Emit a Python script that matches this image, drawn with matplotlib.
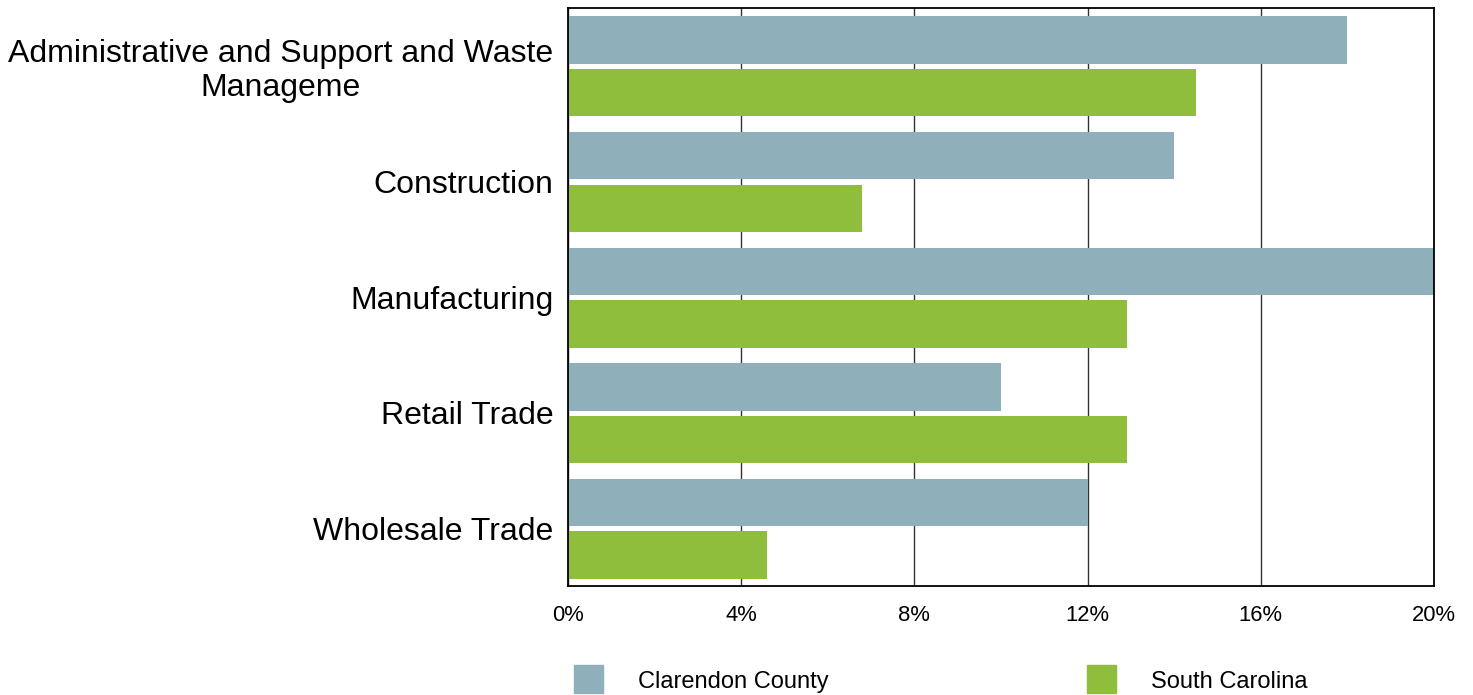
import matplotlib
matplotlib.use("Agg")
import matplotlib.pyplot as plt
from matplotlib.patches import Rectangle
import numpy as np

plt.rcParams['font.family'] = ['Liberation Sans', 'DejaVu Sans']

categories = ["Administrative and Support and Waste\nManageme", "Construction",
              "Manufacturing", "Retail Trade", "Wholesale Trade"]
series_names = ["Clarendon County", "South Carolina"]
clarendon = [18.0, 14.0, 20.0, 10.0, 12.0]
south_carolina = [14.5, 6.8, 12.9, 12.9, 4.6]
xticks = [0, 4, 8, 12, 16, 20]
xtick_labels = ["0%", "4%", "8%", "12%", "16%", "20%"]

c_blue = "#8FAFBA"
c_green = "#8FBD3C"

W, H = 1473, 695
fig = plt.figure(figsize=(W / 100, H / 100), dpi=100)
ax = fig.add_axes([568 / W, 1 - 586 / H, (1434 - 568) / W, (586 - 8) / H])

y = np.arange(len(categories))
bh = 0.41
ax.barh(y - 0.222, clarendon, height=bh, color=c_blue, zorder=2)
ax.barh(y + 0.232, south_carolina, height=bh, color=c_green, zorder=2)

ax.set_xlim(0, 20)
ax.set_ylim(len(categories) - 0.5, -0.5)
ax.set_xticks(xticks)
ax.set_xticklabels(xtick_labels, fontsize=15.8)
ax.set_yticks(y)
ax.set_yticklabels(categories, fontsize=23)
for lbl in ax.get_yticklabels():
    lbl.set_multialignment('center')
    lbl.set_linespacing(1.17)
ax.tick_params(axis='x', length=0, pad=14)
ax.tick_params(axis='y', length=0, pad=10.5)

ax.grid(axis='x', color='#333333', linewidth=1.0, zorder=1)
ax.grid(axis='y', visible=False)
ax.set_axisbelow(True)
for s in ax.spines.values():
    s.set_color('black')
    s.set_linewidth(1.3)
    s.set_zorder(3)

# legend
fig.patches.append(Rectangle((574 / W, 1 - 693 / H), 29 / W, 28 / H,
                             transform=fig.transFigure, color=c_blue))
fig.text(638 / W, 1 - 682 / H, series_names[0], fontsize=17, va='center', ha='left')
fig.patches.append(Rectangle((1087 / W, 1 - 693 / H), 29 / W, 28 / H,
                             transform=fig.transFigure, color=c_green))
fig.text(1151 / W, 1 - 682 / H, series_names[1], fontsize=17, va='center', ha='left')

fig.savefig("out.png", dpi=100)
